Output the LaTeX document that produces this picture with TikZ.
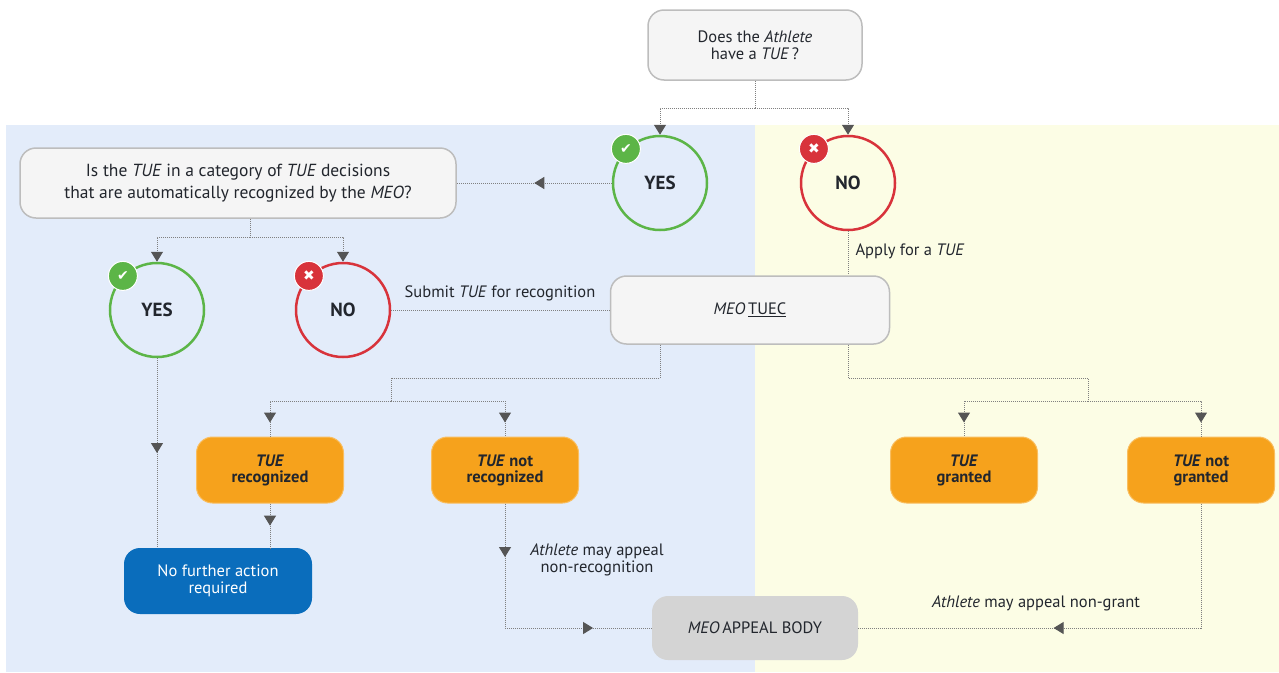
\documentclass[tikz,border=0pt]{standalone}
\usepackage{fontspec}
\setmainfont{PT Sans}
\newfontfamily\symfont{DejaVu Sans}
\usetikzlibrary{arrows.meta,decorations.markings}
\definecolor{bluebg}{HTML}{E3ECFA}
\definecolor{yellowbg}{HTML}{FCFDE5}
\definecolor{boxgray}{HTML}{F5F5F5}
\definecolor{linegray}{HTML}{BDBDBD}
\definecolor{okgreen}{HTML}{5CB547}
\definecolor{nored}{HTML}{D8333B}
\definecolor{tueorange}{HTML}{F6A21C}
\definecolor{actblue}{HTML}{0A6DBC}
\definecolor{appealgray}{HTML}{D4D4D4}
\definecolor{textdark}{HTML}{22262D}
\definecolor{conngray}{HTML}{808080}
\definecolor{tipgray}{HTML}{555555}
\begin{document}
\begin{tikzpicture}[x=1pt, y=-1pt,
    every node/.style={text=textdark, font=\fontsize{16.5}{17}\selectfont, align=center},
    qbox/.style={draw=linegray, line width=1.5pt, fill=boxgray, rounded corners=16pt, inner sep=0pt},
    obox/.style={draw=tueorange!70!white, line width=1pt, fill=tueorange, rounded corners=16pt, minimum width=147pt, minimum height=66pt, font=\fontsize{16.5}{16}\selectfont\bfseries},
    ring/.style={circle, line width=2.5pt, minimum size=94pt, font=\fontsize{19}{20}\selectfont\bfseries},
    badge/.style={circle, draw=white!60, line width=1pt, minimum size=29pt, inner sep=0pt, text=white, font=\symfont\fontsize{14}{14}\selectfont},
    conn/.style={draw=conngray, line width=1pt, dash pattern=on 1pt off 1pt},
    endtip/.style={-{Triangle[width=12pt,length=10pt,color=tipgray]}},
    tipat/.style={postaction={decorate}, decoration={markings, mark=at position #1 with {\arrow[tipgray]{Triangle[width=12pt,length=10pt]}}}}]
    \useasboundingbox (0,0) rectangle (1279,672);
    \fill[bluebg] (6,125) rectangle (755,672);
    \fill[yellowbg] (755,125) rectangle (1279,672);
    \node[qbox, minimum width=214pt, minimum height=70pt] (q1) at (755,45) {Does the \textit{Athlete}\\have a \textit{TUE}\,?};
    \node[qbox, minimum width=436pt, minimum height=70pt, font=\fontsize{17.5}{22}\selectfont] (q2) at (238,183) {Is the \textit{TUE} in a category of \textit{TUE} decisions\\that are automatically recognized by the \textit{MEO}?};
    \node[ring, draw=okgreen] (y1) at (660,183) {YES};
    \node[ring, draw=nored] (n1) at (848,183) {NO};
    \node[ring, draw=okgreen] (y2) at (157,310) {YES};
    \node[ring, draw=nored] (n2) at (343,310) {NO};
    \node[badge, fill=okgreen] (y1b) at (y1.135) {✔};
    \node[badge, fill=nored] (n1b) at (n1.135) {✖};
    \node[badge, fill=okgreen] (y2b) at (y2.135) {✔};
    \node[badge, fill=nored] (n2b) at (n2.135) {✖};
    \node[qbox, minimum width=279pt, minimum height=68pt] (tuec) at (750,310) {\textit{MEO}\,\underline{TUEC}};
    \node[obox] (rec) at (270,470) {\textit{TUE}\\recognized};
    \node[obox] (nrec) at (505,470) {\textit{TUE} not\\recognized};
    \node[obox] (gr) at (964,470) {\textit{TUE}\\granted};
    \node[obox] (ngr) at (1201,470) {\textit{TUE} not\\granted};
    \node[fill=actblue, rounded corners=16pt, minimum width=188pt, minimum height=66pt, text=white] (nf) at (218,581) {No further action\\required};
    \node[fill=appealgray, rounded corners=16pt, minimum width=206pt, minimum height=64pt] (ab) at (755,628) {\textit{MEO}\,APPEAL BODY};
    \node (lsub) at (500,293) {Submit \textit{TUE} for recognition};
    \node[anchor=west] (lapp) at (852,251) {Apply for a \textit{TUE}};
    \node (lrec) at (597,560) {\textit{Athlete} may appeal\\non-recognition};
    \node (lgr) at (1036,603) {\textit{Athlete} may appeal non-grant};
    \coordinate (s1) at (755,108);
    \coordinate (s2) at (250,237);
    \coordinate (s3) at (660,378);
    \coordinate (s4) at (391,401);
    \coordinate (s5) at (848,378);
    \coordinate (s6) at (1088,401);
    \coordinate (c1) at (nrec.south |- ab.west);
    \coordinate (c2) at (ngr.south |- ab.east);
    \draw[conn] (q1) -- (s1);
    \draw[conn, endtip] (s1) -| (y1);
    \draw[conn, endtip] (s1) -| (n1);
    \draw[conn, tipat=0.5] (y1) -- (q2);
    \draw[conn] (q2.south -| s2) -- (s2);
    \draw[conn, endtip] (s2) -| (y2);
    \draw[conn, endtip] (s2) -| (n2);
    \draw[conn] (n2) -- (tuec);
    \draw[conn] (n1) -- (n1 |- tuec.north);
    \draw[conn] (tuec.south -| s3) -- (s3) -| (s4);
    \draw[conn, tipat=-14pt] (s4) -| (rec);
    \draw[conn, tipat=-14pt] (s4) -| (nrec);
    \draw[conn] (tuec.south -| s5) -- (s5) -| (s6);
    \draw[conn, tipat=-14pt] (s6) -| (gr);
    \draw[conn, tipat=-14pt] (s6) -| (ngr);
    \draw[conn, tipat=0.5] (y2) -- (y2 |- nf.north);
    \draw[conn, tipat=0.5] (rec) -- (rec |- nf.north);
    \draw[conn, tipat=0.43] (nrec) -- (c1);
    \draw[conn, tipat=0.6] (c1) -- (ab);
    \draw[conn] (ngr) -- (c2);
    \draw[conn, tipat=0.43] (c2) -- (ab);
\end{tikzpicture}
\end{document}
